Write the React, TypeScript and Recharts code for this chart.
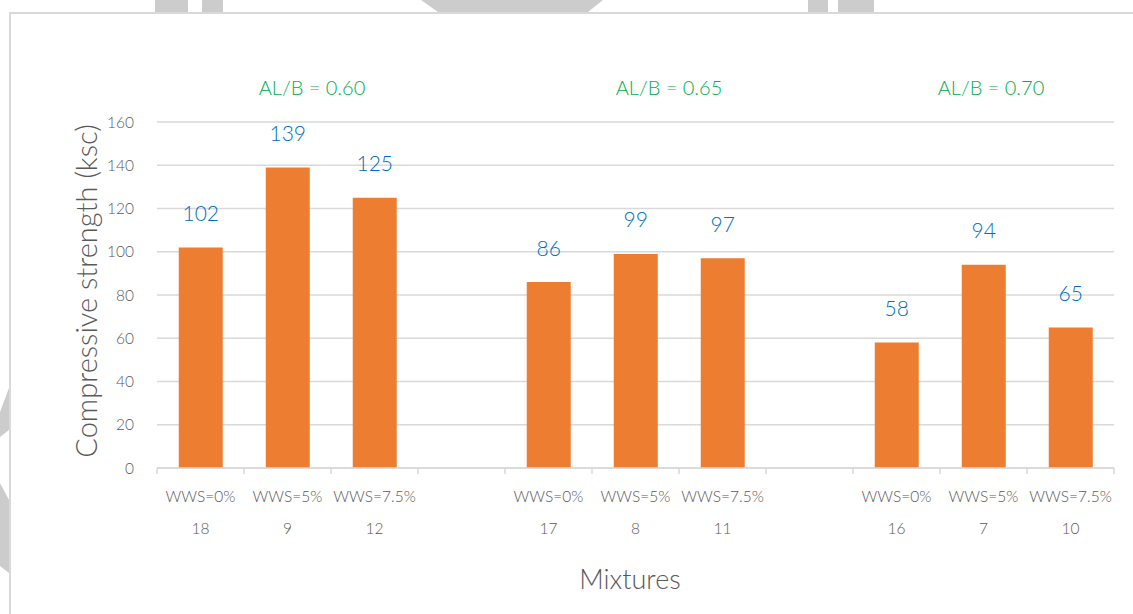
import { BarChart, Bar, XAxis, YAxis, CartesianGrid, LabelList } from "recharts";

// mixture slots, blank slots separate the three AL/B groups
const wwsLabels = ["WWS=0%", "WWS=5%", "WWS=7.5%", "", "WWS=0%", "WWS=5%", "WWS=7.5%", "", "WWS=0%", "WWS=5%", "WWS=7.5%"];
const mixNumbers = ["18", "9", "12", "", "17", "8", "11", "", "16", "7", "10"];
const strength = [102, 139, 125, null, 86, 99, 97, null, 58, 94, 65];
const yTicks = [0, 20, 40, 60, 80, 100, 120, 140, 160];
const groupLabels = ["AL/B = 0.60", "AL/B = 0.65", "AL/B = 0.70"];

const data = wwsLabels.map((wws, i) => ({
  id: i,
  wws,
  mix: mixNumbers[i],
  strength: strength[i],
}));

const W = 1133;
const H = 614;
const margin = { top: 122, right: 19, bottom: 66, left: 97 };
const yAxisW = 60;
const plotW = W - margin.left - margin.right - yAxisW;
const band = plotW / data.length;

const FONT = "Lato, 'Open Sans', sans-serif";
const GREY = "#595959";

const MixTick = (props: any) => {
  const { x, y, payload, index } = props;
  const d = data[payload.value];
  const left = x - band / 2;
  return (
    <g>
      <line x1={left} y1={y} x2={left} y2={y + 6} stroke="#d9d9d9" strokeWidth={1.5} />
      {index === data.length - 1 && (
        <line x1={left + band} y1={y} x2={left + band} y2={y + 6} stroke="#d9d9d9" strokeWidth={1.5} />
      )}
      <text x={x} y={y + 28} textAnchor="middle" dominantBaseline="central" fill={GREY} fontSize={15.5} fontWeight={300} fontFamily={FONT}>
        {d.wws}
      </text>
      <text x={x} y={y + 60} textAnchor="middle" dominantBaseline="central" fill={GREY} fontSize={15.5} fontWeight={300} fontFamily={FONT}>
        {d.mix}
      </text>
    </g>
  );
};

const ValueLabel = (props: any) => {
  const { x, y, width, value } = props;
  if (value == null) return null;
  return (
    <text x={x + width / 2} y={y - 35} textAnchor="middle" dominantBaseline="central" fill="#0070c0" fontSize={21} fontWeight={300} fontFamily={FONT}>
      {value}
    </text>
  );
};

const Backdrop = () => (
  <svg width={W} height={H} style={{ position: "absolute", left: 0, top: 0 }}>
    <rect x={0} y={0} width={W} height={H} fill="#ffffff" />
    {/* grey page shapes behind the frame */}
    <rect x={155} y={0} width={33} height={12} fill="#cccccc" />
    <rect x={202} y={0} width={21} height={12} fill="#cccccc" />
    <polygon points="421,0 603,0 588,12 438,12" fill="#cccccc" />
    <rect x={808} y={0} width={20} height={12} fill="#cccccc" />
    <rect x={838} y={0} width={36} height={12} fill="#cccccc" />
    <polygon points="0,412 9,388 9,430 0,437" fill="#cccccc" />
    <polygon points="0,483 9,500 9,573 0,566" fill="#cccccc" />
    {/* frame */}
    <line x1={10} y1={13} x2={W} y2={13} stroke="#d9d9d9" strokeWidth={2} />
    <line x1={10} y1={12} x2={10} y2={H} stroke="#d9d9d9" strokeWidth={2} />
  </svg>
);

const Titles = () => (
  <svg width={W} height={H} style={{ position: "absolute", left: 0, top: 0, pointerEvents: "none" }}>
    {groupLabels.map((t, i) => (
      <text key={t} x={[312, 669, 991][i]} y={87} textAnchor="middle" dominantBaseline="central" fill="#00b050" fontSize={20} fontWeight={300} fontFamily={FONT}>
        {t}
      </text>
    ))}
    <text x={630} y={578} textAnchor="middle" dominantBaseline="central" fill={GREY} fontSize={27} fontWeight={300} fontFamily={FONT}>
      Mixtures
    </text>
    <text
      x={85}
      y={291}
      textAnchor="middle"
      dominantBaseline="central"
      fill={GREY}
      fontSize={29}
      fontWeight={300}
      fontFamily={FONT}
      transform="rotate(-90 85 291)"
    >
      Compressive strength (ksc)
    </text>
  </svg>
);

export default function App() {
  return (
    <div style={{ position: "absolute", left: 0, top: 0, width: W, height: H, background: "#fff" }}>
      <Backdrop />
      <div style={{ position: "absolute", left: 0, top: 0 }}>
        <BarChart width={W} height={H} data={data} margin={margin} barCategoryGap="25%">
          <CartesianGrid vertical={false} stroke="#d9d9d9" strokeWidth={1.3} />
          <XAxis
            dataKey="id"
            type="category"
            interval={0}
            axisLine={{ stroke: "#d9d9d9", strokeWidth: 1.5 }}
            tickLine={false}
            tickSize={0}
            tickMargin={0}
            height={80}
            tick={<MixTick />}
          />
          <YAxis
            width={yAxisW}
            domain={[0, 160]}
            ticks={yTicks}
            axisLine={false}
            tickLine={false}
            tickSize={0}
            tickMargin={23}
            tick={{ fill: GREY, fontSize: 15.5, fontWeight: 300, fontFamily: FONT }}
          />
          <Bar dataKey="strength" fill="#ed7d31" isAnimationActive={false}>
            <LabelList dataKey="strength" content={<ValueLabel />} />
          </Bar>
        </BarChart>
      </div>
      <Titles />
    </div>
  );
}
